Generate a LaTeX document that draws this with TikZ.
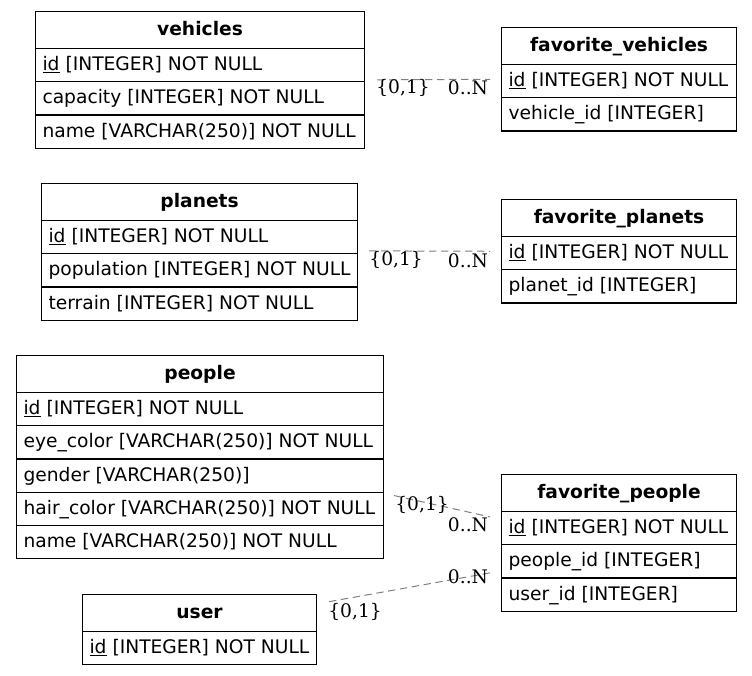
\documentclass[tikz,border=0pt]{standalone}
\usepackage{fontspec}
\setmainfont{DejaVu Sans}
\newfontfamily\lblfont{DejaVu Serif}
\usepackage{tikz}
\usetikzlibrary{shapes.multipart,calc}

% rows of a table
\newcommand{\headrow}[1]{\rule[-9.5pt]{0pt}{27pt}\textbf{#1}}
\newcommand{\fieldrow}[1]{\rule[-8pt]{0pt}{24.1pt}#1}

\tikzset{
  tbl/.style={draw, line width=0.8pt, rectangle split, anchor=north west,
    rectangle split part align={center,left}, inner xsep=5.25pt, inner ysep=0pt,
    font=\fontsize{14}{16}\selectfont},
  rel/.style={draw=gray, dash pattern=on 5.5pt off 3.5pt, line width=0.75pt},
  lbl/.style={inner sep=0pt, font=\lblfont\fontsize{14}{16}\selectfont}
}

\begin{document}
\begin{tikzpicture}[x=0.75pt, y=-0.75pt]
\useasboundingbox (0,0) rectangle (752,675);

% Drawing tables
\node[tbl, rectangle split parts=4, minimum width=246.75pt] (vehicles) at (35,11)
  {\headrow{vehicles}\nodepart{two}\fieldrow{\underline{id} [INTEGER] NOT NULL}%
   \nodepart{three}\fieldrow{capacity [INTEGER] NOT NULL}%
   \nodepart{four}\fieldrow{name [VARCHAR(250)] NOT NULL}};
\node[tbl, rectangle split parts=3, minimum width=176.25pt] (favvehicles) at (501,27)
  {\headrow{favorite\_vehicles}\nodepart{two}\fieldrow{\underline{id} [INTEGER] NOT NULL}%
   \nodepart{three}\fieldrow{vehicle\_id [INTEGER]}};
\node[tbl, rectangle split parts=4, minimum width=237pt] (planets) at (41,183)
  {\headrow{planets}\nodepart{two}\fieldrow{\underline{id} [INTEGER] NOT NULL}%
   \nodepart{three}\fieldrow{population [INTEGER] NOT NULL}%
   \nodepart{four}\fieldrow{terrain [INTEGER] NOT NULL}};
\node[tbl, rectangle split parts=3, minimum width=176.25pt] (favplanets) at (501,199)
  {\headrow{favorite\_planets}\nodepart{two}\fieldrow{\underline{id} [INTEGER] NOT NULL}%
   \nodepart{three}\fieldrow{planet\_id [INTEGER]}};
\node[tbl, rectangle split parts=6, minimum width=275.25pt] (people) at (16,355)
  {\headrow{people}\nodepart{two}\fieldrow{\underline{id} [INTEGER] NOT NULL}%
   \nodepart{three}\fieldrow{eye\_color [VARCHAR(250)] NOT NULL}%
   \nodepart{four}\fieldrow{gender [VARCHAR(250)]}%
   \nodepart{five}\fieldrow{hair\_color [VARCHAR(250)] NOT NULL}%
   \nodepart{six}\fieldrow{name [VARCHAR(250)] NOT NULL}};
\node[tbl, rectangle split parts=4, minimum width=176.25pt] (favpeople) at (501,474)
  {\headrow{favorite\_people}\nodepart{two}\fieldrow{\underline{id} [INTEGER] NOT NULL}%
   \nodepart{three}\fieldrow{people\_id [INTEGER]}%
   \nodepart{four}\fieldrow{user\_id [INTEGER]}};
\node[tbl, rectangle split parts=2, minimum width=175.5pt] (user) at (82,594)
  {\headrow{user}\nodepart{two}\fieldrow{\underline{id} [INTEGER] NOT NULL}};

% Drawing relations
\draw[rel] ($(vehicles.east)+(12,0)$) -- ($(favvehicles.west)+(-11,0)$);
\node[lbl] (vehiclesone) at ($(vehicles.east)+(38,8)$) {\{0,1\}};
\node[lbl] (vehiclesmany) at ($(favvehicles.west)+(-33,8.5)$) {0..N};

\draw[rel] ($(planets.east)+(11,-1)$) -- ($(favplanets.west)+(-11,0)$);
\node[lbl] (planetsone) at ($(planets.east)+(38,8.5)$) {\{0,1\}};
\node[lbl] (planetsmany) at ($(favplanets.west)+(-33,9.5)$) {0..N};

\draw[rel] ($(people.east)+(10,38.5)$) -- ($(favpeople.west)+(-11,-26)$);
\node[lbl] (peopleone) at ($(people.east)+(38,47.5)$) {\{0,1\}};
\node[lbl] (peoplemany) at ($(favpeople.west)+(-33,-18)$) {0..N};

\draw[rel] ($(user.east)+(12,-28)$) -- ($(favpeople.west)+(-11,30)$);
\node[lbl] (userone) at ($(user.east)+(38,-18)$) {\{0,1\}};
\node[lbl] (usermany) at ($(favpeople.west)+(-33,34)$) {0..N};
\end{tikzpicture}
\end{document}
